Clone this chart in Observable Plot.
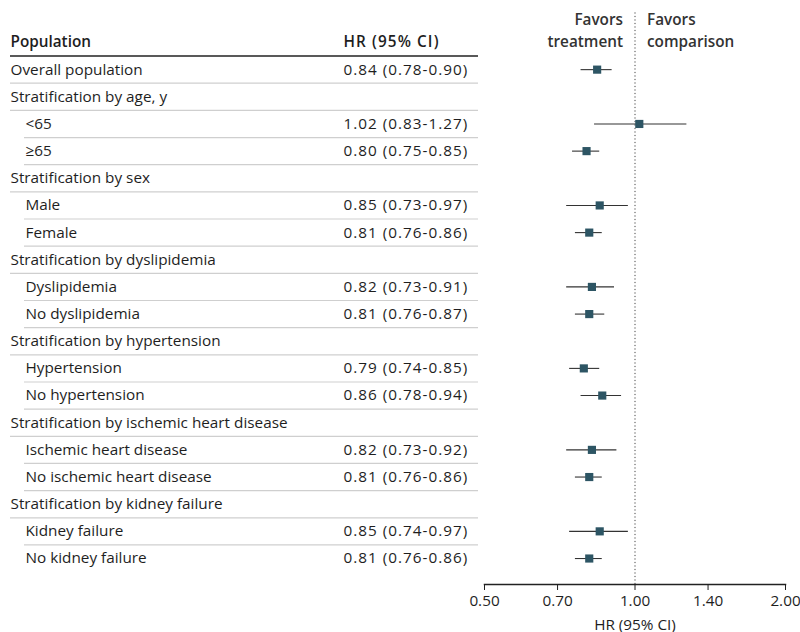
<!DOCTYPE html>
<html>
<head>
<meta charset="utf-8">
<script src="https://cdn.jsdelivr.net/npm/d3@7"></script>
<script src="https://cdn.jsdelivr.net/npm/@observablehq/plot@0.6"></script>
<style>
  body { margin: 0; background: #fff; }
  #chart { display: flex; width: 800px; height: 632px; }
  #chart svg { flex: none; }
  #chart svg.rightplot { margin-left: -30px; }
</style>
</head>
<body>
<div id="chart"></div>
<script>
const headers = ["Population", "HR (95% CI)"];
const labels = [
  "Overall population",
  "Stratification by age, y", "<65", "≥65",
  "Stratification by sex", "Male", "Female",
  "Stratification by dyslipidemia", "Dyslipidemia", "No dyslipidemia",
  "Stratification by hypertension", "Hypertension", "No hypertension",
  "Stratification by ischemic heart disease", "Ischemic heart disease", "No ischemic heart disease",
  "Stratification by kidney failure", "Kidney failure", "No kidney failure"
];
const levels = [0, 0,1,1, 0,1,1, 0,1,1, 0,1,1, 0,1,1, 0,1,1];
const hr = [0.84, null,1.02,0.80, null,0.85,0.81, null,0.82,0.81, null,0.79,0.86, null,0.82,0.81, null,0.85,0.81];
const lo = [0.78, null,0.83,0.75, null,0.73,0.76, null,0.73,0.76, null,0.74,0.78, null,0.73,0.76, null,0.74,0.76];
const hi = [0.90, null,1.27,0.85, null,0.97,0.86, null,0.91,0.87, null,0.85,0.94, null,0.92,0.86, null,0.97,0.86];
const xTicks = [0.5, 0.7, 1.0, 1.4, 2.0];
const favors = ["Favors\ntreatment", "Favors\ncomparison"];

const f2 = d3.format(".2f");
const rows = labels.map((label, i) => ({
  label, level: levels[i], hr: hr[i], lo: lo[i], hi: hi[i], row: i + 1,
  text: hr[i] == null ? "" : `${f2(hr[i])} (${f2(lo[i])}-${f2(hi[i])})`
}));
const est = rows.filter(d => d.hr != null);

const H = 632;
const yOpt = {domain: [-0.5, 19.5], range: [28.4, 571.6], axis: null};
const style = {fontFamily: "'Open Sans', sans-serif", fontSize: "15.3px", color: "#1e1e1e", background: "transparent"};

const left = Plot.plot({
  width: 484, height: H,
  marginLeft: 0, marginRight: 0, marginTop: 28.4, marginBottom: 48,
  x: {type: "identity", axis: null},
  y: yOpt,
  style: {...style, background: "#fff"},
  marks: [
    Plot.ruleY(rows.slice(0, -1), {y: d => d.row + 0.5, x1: d => d.level ? 24 : 10, x2: 478, stroke: "#cfcfcf", strokeWidth: 1.2}),
    Plot.ruleY([0.5], {x1: 10, x2: 478, stroke: "#222", strokeWidth: 1.5}),
    Plot.text([headers[0]], {x: 10, y: 0, text: d => d, textAnchor: "start", fontWeight: 600}),
    Plot.text([headers[1]], {x: 343, y: 0, text: d => d, textAnchor: "start", fontWeight: 600}),
    Plot.text(rows, {x: d => d.level ? 25 : 10, y: "row", text: "label", textAnchor: "start", fontWeight: 500}),
    Plot.text(rows, {x: 343, y: "row", text: "text", textAnchor: "start", fontWeight: 500})
  ]
});
const textGroups = left.querySelectorAll('g[aria-label="text"]');
textGroups[1].style.letterSpacing = "1.1px";
textGroups[3].style.letterSpacing = "1.0px";

const right = Plot.plot({
  width: 346, height: H,
  marginLeft: 30, marginRight: 15, marginTop: 28.4, marginBottom: 48,
  x: {type: "log", domain: [0.5, 2.0]},
  y: yOpt,
  style,
  marks: [
    Plot.ruleX([1], {stroke: "#444", strokeWidth: 1, strokeDasharray: "1.2,2.3", insetTop: -16}),
    Plot.text([favors[0]], {x: 1, frameAnchor: "top", dx: -12, dy: -19, text: d => d, textAnchor: "end", fontWeight: 600, lineHeight: 1.4, fill: "#333"}),
    Plot.text([favors[1]], {x: 1, frameAnchor: "top", dx: 12, dy: -19, text: d => d, textAnchor: "start", fontWeight: 600, lineHeight: 1.4, fill: "#333"}),
    Plot.ruleY(est, {y: "row", x1: "lo", x2: "hi", stroke: "#333", strokeWidth: 1.1}),
    Plot.dot(est, {x: "hr", y: "row", symbol: "square", r: 4.6, fill: "#2d5564"}),
    Plot.frame({anchor: "bottom", stroke: "#222", strokeWidth: 1.5}),
    Plot.axisX({ticks: xTicks, tickFormat: f2, tickSize: 6, tickPadding: 5, fontWeight: 500, label: "HR (95% CI)", labelAnchor: "center", labelArrow: "none", labelOffset: 45})
  ]
});
right.classList.add("rightplot");

document.getElementById("chart").append(left, right);
</script>
</body>
</html>
